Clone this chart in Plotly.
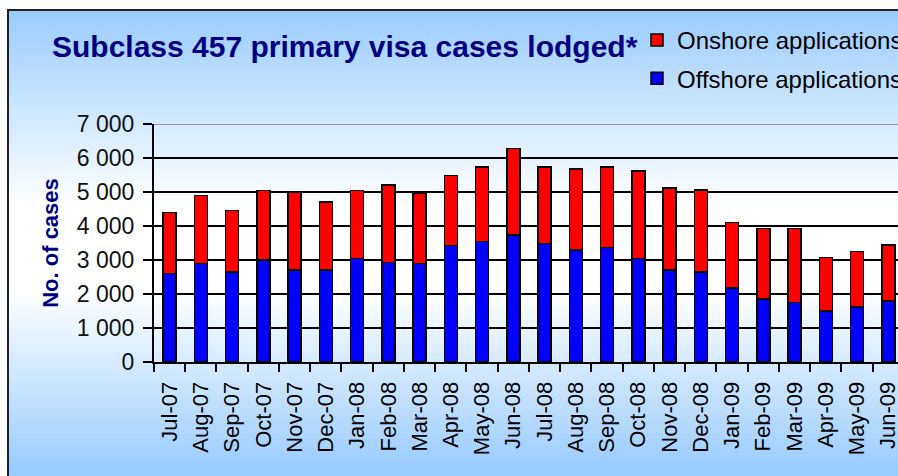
import base64
import struct
import zlib
import plotly.graph_objects as go

# ---------------- data ----------------
months = ["Jul-07", "Aug-07", "Sep-07", "Oct-07", "Nov-07", "Dec-07",
          "Jan-08", "Feb-08", "Mar-08", "Apr-08", "May-08", "Jun-08",
          "Jul-08", "Aug-08", "Sep-08", "Oct-08", "Nov-08", "Dec-08",
          "Jan-09", "Feb-09", "Mar-09", "Apr-09", "May-09", "Jun-09"]
offshore = [2600, 2900, 2650, 3000, 2700, 2700,
            3050, 2930, 2900, 3430, 3550, 3730,
            3480, 3300, 3370, 3050, 2700, 2640,
            2170, 1860, 1750, 1500, 1620, 1800]
totals = [4400, 4900, 4450, 5050, 4980, 4700,
          5050, 5200, 4950, 5480, 5730, 6280,
          5730, 5670, 5730, 5620, 5120, 5060,
          4100, 3920, 3920, 3070, 3250, 3440]
onshore = [t - o for t, o in zip(totals, offshore)]
y_tick_vals = [0, 1000, 2000, 3000, 4000, 5000, 6000, 7000]
y_tick_text = ["0", "1 000", "2 000", "3 000", "4 000", "5 000", "6 000", "7 000"]

# ---------------- geometry helpers ----------------
W, H = 898, 476
ML, MR, MT, MB = 154, 0, 124, 114
PW, PH = W - ML - MR, H - MT - MB


def px_x(p):
    return (p - ML) / PW


def px_y(p):
    return (H - MB - p) / PH


# ---------------- gradient background as PNG ----------------
def gradient_png():
    top, bot = 10, 480
    rows = []
    for py in range(top, bot):
        if py <= 205:
            f = (py - top) / 195.0
        elif py <= 290:
            f = 1.0
        else:
            f = 1.0 - (py - 290) / 180.0
        f = max(0.0, min(1.0, f))
        r = int(round(153 + 102 * f))
        g = int(round(204 + 51 * f))
        b = 255
        rows.append(b"\x00" + bytes([r, g, b]) * 4)
    raw = b"".join(rows)
    h = bot - top

    def chunk(tag, data):
        c = struct.pack(">I", len(data)) + tag + data
        return c + struct.pack(">I", zlib.crc32(tag + data) & 0xffffffff)

    png = b"\x89PNG\r\n\x1a\n"
    png += chunk(b"IHDR", struct.pack(">IIBBBBB", 4, h, 8, 2, 0, 0, 0))
    png += chunk(b"IDAT", zlib.compress(raw, 9))
    png += chunk(b"IEND", b"")
    return "data:image/png;base64," + base64.b64encode(png).decode()


FONT = "Liberation Sans, Arial, sans-serif"

fig = go.Figure()
fig.add_trace(go.Bar(x=months, y=offshore, name="Offshore applications",
                     marker=dict(color="#0000ff", line=dict(color="#000000", width=1.5)),
                     width=0.42, legendgroup="off", legendrank=2))
fig.add_trace(go.Bar(x=months, y=onshore, name="Onshore applications",
                     marker=dict(color="#ff0000", line=dict(color="#000000", width=1.5)),
                     width=0.42, legendgroup="on", legendrank=1))

fig.update_layout(
    width=W, height=H,
    margin=dict(l=ML, r=MR, t=MT, b=MB, autoexpand=False),
    barmode="stack",
    paper_bgcolor="#ffffff",
    plot_bgcolor="rgba(0,0,0,0)",
    font=dict(family=FONT, color="#000000"),
    title=dict(text="<b>Subclass 457 primary visa cases lodged*</b>",
               font=dict(family=FONT, size=30, color="#000080"),
               xref="container", x=52 / W, xanchor="left",
               yref="container", y=1 - 46 / H, yanchor="middle"),
    legend=dict(x=px_x(637), xanchor="left", y=px_y(18), yanchor="top",
                font=dict(family=FONT, size=24, color="#000000"),
                bgcolor="rgba(0,0,0,0)", tracegroupgap=4,
                traceorder="grouped"),
    showlegend=True,
    bargap=0.58,
)

fig.update_xaxes(
    type="category", range=[-0.5, 23.31],
    showline=True, linecolor="#000000", linewidth=2,
    ticks="outside", tickson="boundaries", ticklen=8, tickcolor="#000000", tickwidth=1.5,
    tickangle=-90, tickfont=dict(family=FONT, size=22, color="#000000"),
    showgrid=False, ticklabelstandoff=9,
)
fig.update_yaxes(
    range=[0, 7000], tickvals=y_tick_vals, ticktext=y_tick_text,
    showline=True, linecolor="#000000", linewidth=2,
    ticks="outside", ticklen=9, tickcolor="#000000", tickwidth=1.5,
    tickfont=dict(family=FONT, size=23, color="#111111"),
    ticklabelstandoff=4,
    showgrid=True, gridcolor="#000000", gridwidth=1.5, zeroline=False,
    title=dict(text="<b>No. of cases</b>", font=dict(family=FONT, size=22, color="#000080"),
               standoff=12),
)

fig.add_layout_image(dict(
    source=gradient_png(), xref="paper", yref="paper",
    x=px_x(8), y=px_y(10), sizex=(W + 4 - 8) / PW, sizey=(480 - 10) / PH,
    xanchor="left", yanchor="top", sizing="stretch", layer="below",
))
# frame border
fig.add_shape(type="rect", xref="paper", yref="paper",
              x0=px_x(8), x1=px_x(W + 10), y0=px_y(H + 10), y1=px_y(10),
              line=dict(color="#222222", width=2), fillcolor="rgba(0,0,0,0)", layer="above")
# top plot-area edge (grey)
fig.add_shape(type="line", xref="paper", yref="y", x0=0, x1=1, y0=7000, y1=7000,
              line=dict(color="#9a9a9a", width=2), layer="above")

fig.write_html(
    "out.html",
    config={"displayModeBar": False},
    post_script=("document.body.style.margin='0px';"
                 "document.body.style.overflow='hidden';"
                 "document.documentElement.style.overflow='hidden';"),
)
